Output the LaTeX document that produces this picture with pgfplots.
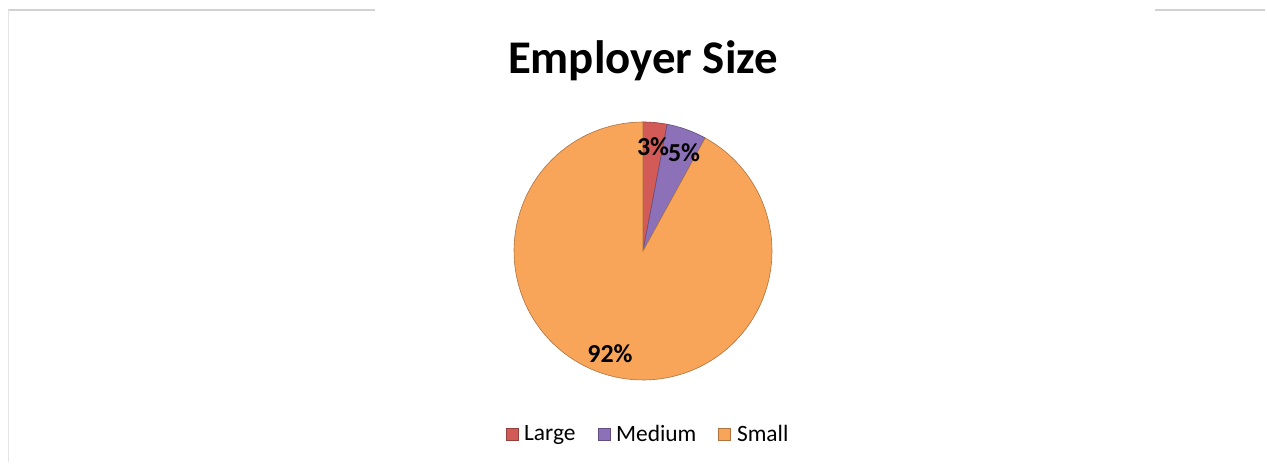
\documentclass[border=0pt]{standalone}
\usepackage{pgfplots}
\pgfplotsset{compat=1.18}
\usepackage{fontspec}
\setmainfont{Carlito}

\definecolor{cLarge}{HTML}{D35B57}
\definecolor{cMedium}{HTML}{8C70B8}
\definecolor{cSmall}{HTML}{F8A55A}

% share of each slice in percent: Large 3, Medium 5, Small 92
% slices run clockwise from 12 o'clock, 3.6 degrees per percent
\begin{document}
\begin{tikzpicture}
\begin{axis}[
    width=1267bp, height=466bp, scale only axis,
    xmin=0, xmax=1267, ymin=0, ymax=466,
    axis lines=none, ticks=none,
    clip=false,
    area legend,
    legend columns=-1,
    legend style={draw=none, fill=none, at={(axis cs:648,32)}, anchor=center,
        font=\fontsize{23.5}{25}\selectfont,
        /tikz/every odd column/.append style={column sep=4bp},
        /tikz/every even column/.append style={column sep=20bp}},
    legend image code/.code={\fill[#1] (0bp,-6bp) rectangle (12bp,6bp);},
]
\path (axis cs:0,0) rectangle (axis cs:1267,466);
% faint frame
\draw[gray!35, line width=1.2bp] (axis cs:8,456) -- (axis cs:375,456);
\draw[gray!35, line width=1.2bp] (axis cs:1155,456) -- (axis cs:1265,456);
\draw[gray!20, line width=1bp] (axis cs:8,456) -- (axis cs:8,4);

\addplot[fill=cLarge, draw=cLarge!70!black, line width=0.6bp, domain=79.2:90, samples=8, variable=\t]
    ({643+129*cos(t)},{215+129*sin(t)}) -- (axis cs:643,215) -- cycle;
\addlegendentry{Large}
\addplot[fill=cMedium, draw=cMedium!70!black, line width=0.6bp, domain=61.2:79.2, samples=10, variable=\t]
    ({643+129*cos(t)},{215+129*sin(t)}) -- (axis cs:643,215) -- cycle;
\addlegendentry{Medium}
\addplot[fill=cSmall, draw=cSmall!70!black, line width=0.6bp, domain=-270:61.2, samples=120, variable=\t]
    ({643+129*cos(t)},{215+129*sin(t)}) -- (axis cs:643,215) -- cycle;
\addlegendentry{Small}

\node[font=\fontsize{47}{50}\selectfont\bfseries] at (axis cs:643,405) {Employer Size};
\node[font=\fontsize{26}{28}\selectfont\bfseries] at (axis cs:653,319) {3\%};
\node[font=\fontsize{26}{28}\selectfont\bfseries] at (axis cs:684,313) {5\%};
\node[font=\fontsize{26}{28}\selectfont\bfseries] at (axis cs:610,112) {92\%};
\end{axis}
\end{tikzpicture}
\end{document}
